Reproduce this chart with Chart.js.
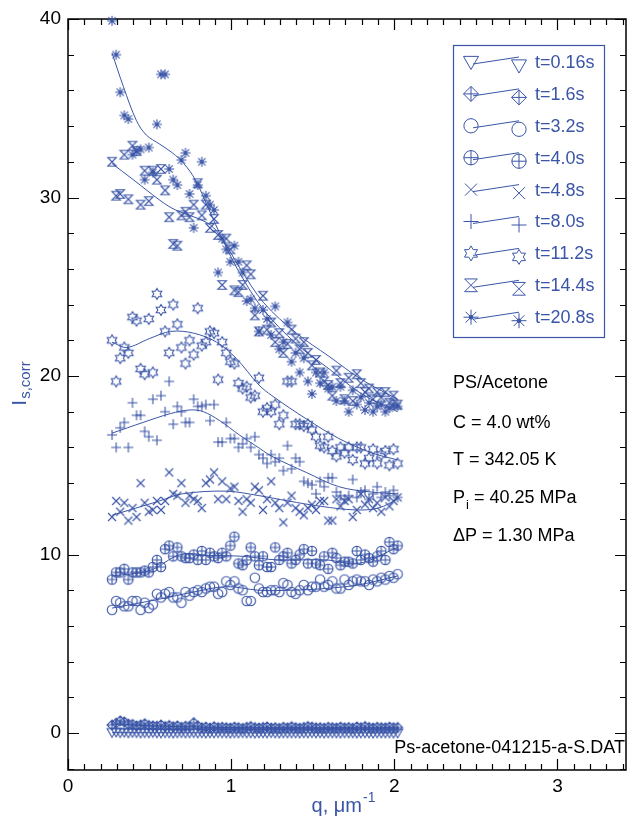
<!DOCTYPE html>
<html>
<head>
<meta charset="utf-8">
<script src="https://cdn.jsdelivr.net/npm/chart.js"></script>
<style>
  html, body { margin: 0; padding: 0; background: #fff; }
  #contenedor { width: 632px; height: 824px; position: relative; }
</style>
</head>
<body>
<div id="contenedor"><canvas id="dispersionChart"></canvas></div>
<script>
// Valores de q (um^-1), comunes a todas las series
const qValores = [
  0.270, 0.295, 0.320, 0.345, 0.370, 0.395, 0.420, 0.445, 0.470, 0.495,
  0.520, 0.545, 0.570, 0.595, 0.620, 0.645, 0.670, 0.695, 0.720, 0.745,
  0.770, 0.795, 0.820, 0.845, 0.870, 0.895, 0.920, 0.945, 0.970, 0.995,
  1.020, 1.045, 1.070, 1.095, 1.120, 1.145, 1.170, 1.195, 1.220, 1.245,
  1.270, 1.295, 1.320, 1.345, 1.370, 1.395, 1.420, 1.445, 1.470, 1.495,
  1.520, 1.545, 1.570, 1.595, 1.620, 1.645, 1.670, 1.695, 1.720, 1.745,
  1.770, 1.795, 1.820, 1.845, 1.870, 1.895, 1.920, 1.945, 1.970, 1.995,
  2.020
];

// Intensidad corregida para cada tiempo
const serie016 = [
  0.04, 0.06, 0.03, 0.05, 0.02, 0.04, 0.03, 0.01, 0.03, 0.02,
  0.04, 0.02, 0.01, 0.03, 0.02, 0.00, 0.02, 0.03, 0.01, 0.02,
  0.03, 0.01, 0.02, 0.00, 0.02, 0.01, 0.03, 0.02, 0.01, 0.00,
  0.02, 0.01, 0.03, 0.01, 0.02, 0.00, 0.01, 0.02, 0.01, 0.03,
  0.01, 0.00, 0.02, 0.01, 0.02, 0.01, 0.00, 0.02, 0.01, 0.03,
  0.01, 0.02, 0.00, 0.01, 0.02, 0.01, 0.00, 0.02, 0.01, 0.02,
  0.00, 0.01, 0.02, 0.01, 0.00, 0.02, 0.01, 0.01, 0.02, 0.00,
  0.01
];
const serie16 = [
  0.45, 0.55, 0.68, 0.62, 0.50, 0.48, 0.40, 0.45, 0.52, 0.42,
  0.40, 0.38, 0.45, 0.36, 0.42, 0.35, 0.40, 0.32, 0.38, 0.36,
  0.58, 0.40, 0.30, 0.33, 0.28, 0.35, 0.30, 0.32, 0.30, 0.28,
  0.33, 0.30, 0.26, 0.32, 0.36, 0.30, 0.28, 0.31, 0.34, 0.28,
  0.30, 0.26, 0.32, 0.29, 0.35, 0.30, 0.27, 0.31, 0.36, 0.33,
  0.29, 0.30, 0.27, 0.32, 0.30, 0.28, 0.33, 0.29, 0.31, 0.27,
  0.34, 0.30, 0.36, 0.31, 0.28, 0.32, 0.30, 0.29, 0.33, 0.30,
  0.31
];
const serie32 = [
  6.9, 7.4, 7.3, 7.1, 7.1, 7.4, 7.4, 6.9, 7.3, 7.0,
  7.2, 7.8, 7.6, 7.8, 7.9, 7.6, 7.6, 7.3, 7.9, 7.7,
  7.9, 8.0, 7.9, 8.1, 8.2, 8.2, 7.8, 7.9, 8.5, 8.3,
  8.5, 8.1, 8.0, 7.4, 7.4, 8.7, 8.1, 7.9, 7.9, 8.0,
  8.0, 7.9, 8.4, 8.3, 7.9, 7.8, 8.0, 8.3, 8.0, 8.2,
  8.2, 8.6, 8.2, 8.3, 8.5, 8.1, 8.1, 8.6, 8.3, 8.5,
  8.6, 8.5, 8.5, 8.3, 8.6, 8.5, 8.7, 8.6, 8.8, 8.7,
  8.9
];
const serie40 = [
  8.6, 9.0, 9.0, 9.2, 8.6, 9.0, 9.0, 9.0, 9.1, 9.0,
  9.3, 9.7, 9.3, 10.3, 10.5, 9.9, 10.4, 9.9, 9.8, 9.8,
  10.0, 9.7, 10.2, 9.7, 10.1, 9.9, 9.8, 10.1, 9.9, 10.5,
  11.0, 9.5, 9.4, 9.7, 10.4, 9.9, 9.4, 9.9, 9.3, 9.3,
  10.4, 9.7, 9.9, 10.1, 9.5, 9.7, 10.0, 10.3, 9.5, 10.2,
  9.5, 9.4, 9.9, 9.2, 10.1, 9.8, 9.4, 9.6, 9.6, 9.5,
  10.2, 9.7, 10.0, 9.8, 9.6, 9.9, 10.2, 9.7, 10.7, 10.3,
  10.5
];
const serie48 = [
  12.1, 13.0, 12.4, 12.9, 11.9, 12.6, 12.1, 14.0, 12.9, 12.4,
  12.5, 13.0, 12.5, 13.0, 14.6, 13.4, 13.3, 14.0, 12.9, 13.3,
  13.1, 13.0, 12.6, 14.0, 14.2, 14.6, 13.1, 14.1, 13.1, 13.7,
  13.8, 13.0, 12.4, 13.1, 12.9, 13.8, 13.6, 12.5, 13.1, 14.1,
  12.9, 12.6, 11.8, 12.9, 13.3, 12.6, 12.4, 12.2, 12.6, 12.8,
  12.5, 13.0, 13.0, 11.9, 11.9, 13.1, 12.7, 13.0, 13.1, 12.1,
  12.5, 13.4, 12.8, 13.1, 12.6, 12.9, 12.4, 13.2, 12.7, 13.0,
  13.2
];
const serie80 = [
  16.7, 16.0, 17.1, 17.4, 16.0, 18.5, 17.8, 17.8, 16.9, 16.6,
  18.7, 16.4, 18.9, 18.0, 19.7, 17.3, 18.3, 18.0, 17.4, 17.4,
  18.7, 18.3, 18.3, 18.4, 17.5, 18.4, 16.3, 16.3, 17.4, 16.5,
  16.5, 16.0, 16.2, 16.5, 16.0, 16.6, 15.6, 15.4, 15.1, 15.6,
  15.2, 15.4, 14.7, 16.1, 14.8, 15.4, 15.2, 14.1, 14.0, 13.9,
  13.4, 14.1, 13.8, 14.3, 14.3, 13.5, 13.3, 13.1, 13.3, 14.2,
  13.2, 13.5, 13.6, 13.1, 13.4, 13.8, 13.2, 13.5, 13.3, 13.6,
  13.2
];
const serie112 = [
  22.0, 19.7, 21.0, 21.6, 21.3, 23.3, 23.1, 20.4, 20.1, 23.2,
  20.2, 24.6, 23.7, 22.5, 21.3, 24.0, 22.9, 21.6, 20.7, 22.0,
  21.2, 23.8, 21.7, 21.9, 22.5, 22.4, 19.8, 21.9, 21.3, 20.8,
  20.7, 19.6, 19.3, 19.4, 18.8, 18.9, 19.9, 18.0, 18.2, 18.0,
  18.4, 17.3, 17.8, 19.7, 19.7, 17.3, 17.3, 17.2, 17.3, 17.0,
  16.6, 16.1, 16.0, 16.6, 15.8, 15.5, 16.0, 15.7, 16.0, 15.3,
  16.0, 16.0, 15.1, 15.4, 15.9, 15.1, 15.6, 15.8, 15.0, 15.9,
  15.1
];
const serie144 = [
  32.0, 30.1, 30.2, 32.4, 29.9, 32.9, 32.6, 29.6, 31.5, 29.8,
  31.5, 31.0, 31.6, 30.4, 28.9, 27.4, 27.3, 29.0, 29.2, 28.9,
  29.6, 30.8, 29.0, 29.6, 28.3, 28.8, 27.9, 25.1, 27.7, 27.1,
  24.8, 24.7, 25.1, 26.2, 25.7, 23.4, 22.5, 24.5, 22.6, 23.0,
  21.9, 22.4, 21.3, 21.8, 22.6, 22.1, 21.5, 21.9, 21.3, 20.6,
  20.9, 20.2, 19.7, 19.5, 18.9, 20.3, 19.6, 18.7, 19.9, 18.6,
  20.1, 19.6, 19.1, 19.3, 18.7, 19.1, 18.8, 19.1, 18.5, 18.9,
  18.4
];
const serie208 = [
  39.9, 38.0, 35.9, 34.6, 34.4, 32.4, 32.6, 32.7, 31.0, 32.8,
  31.4, 34.1, 36.9, 36.9, 31.6, 31.0, 30.7, 32.1, 32.5, 30.2,
  28.3, 30.7, 32.0, 30.1, 29.6, 29.3, 25.8, 27.7, 27.1, 26.4,
  27.3, 26.4, 25.8, 24.2, 24.3, 23.8, 22.5, 23.7, 23.2, 22.3,
  23.9, 21.5, 21.9, 23.0, 20.8, 21.3, 20.2, 21.0, 19.7, 19.0,
  20.2, 19.6, 20.2, 19.3, 19.4, 18.6, 19.4, 18.6, 18.0, 19.2,
  18.4, 18.8, 18.1, 18.5, 18.0, 18.3, 18.4, 18.0, 18.2, 18.4,
  18.3
];

// Curvas de ajuste, pares [q, I]
const ajuste016 = [[0.27, 0.02], [1.0, 0.01], [2.02, 0.01]];
const ajuste16 = [[0.27, 0.50], [0.6, 0.38], [1.0, 0.31], [1.5, 0.29], [2.02, 0.29]];
const ajuste32 = [[0.27, 7.0], [0.56, 7.5], [0.77, 7.9], [0.97, 8.2], [1.17, 8.0], [1.37, 8.0], [1.58, 8.1], [1.78, 8.3], [2.02, 8.8]];
const ajuste40 = [[0.27, 8.8], [0.5, 9.1], [0.69, 10.0], [0.87, 9.95], [1.07, 9.9], [1.28, 9.7], [1.58, 9.7], [1.78, 9.5], [2.02, 10.4]];
const ajuste48 = [[0.27, 12.2], [0.56, 13.0], [0.70, 13.4], [0.97, 13.55], [1.17, 13.3], [1.35, 13.0], [1.55, 12.7], [1.76, 12.5], [1.9, 12.6], [2.02, 13.1]];
const ajuste80 = [[0.27, 16.8], [0.46, 17.4], [0.63, 17.9], [0.75, 18.1], [0.83, 18.0], [0.93, 17.5], [1.05, 16.7], [1.15, 16.1], [1.25, 15.5], [1.46, 14.6], [1.66, 13.8], [1.86, 13.5], [2.02, 13.4]];
const ajuste112 = [[0.27, 21.9], [0.36, 21.6], [0.5, 22.1], [0.63, 22.5], [0.77, 22.4], [0.91, 21.9], [1.03, 21.0], [1.17, 19.5], [1.25, 18.9], [1.46, 17.6], [1.66, 16.5], [1.86, 15.7], [2.02, 15.3]];
const ajuste144 = [[0.27, 31.9], [0.4, 31.0], [0.57, 29.8], [0.66, 29.3], [0.85, 28.6], [0.93, 27.9], [1.05, 26.1], [1.2, 24.1], [1.4, 22.4], [1.6, 21.1], [1.8, 19.8], [2.02, 18.7]];
const ajuste208 = [[0.27, 38.1], [0.34, 36.2], [0.42, 34.3], [0.48, 33.5], [0.56, 33.0], [0.64, 32.5], [0.71, 31.9], [0.78, 31.0], [0.86, 29.4], [0.95, 27.6], [1.05, 25.8], [1.2, 23.7], [1.4, 21.8], [1.6, 20.4], [1.8, 19.0], [2.02, 18.0]];

const etiquetas = ['t=0.16s', 't=1.6s', 't=3.2s', 't=4.0s', 't=4.8s', 't=8.0s', 't=11.2s', 't=14.4s', 't=20.8s'];
const simbolos = ['trianguloAbajo', 'romboCruz', 'circulo', 'circuloCruz', 'equis', 'cruz', 'estrella6', 'reloj', 'asterisco'];
const xTicks = [0, 1, 2, 3];
const yTicks = [0, 10, 20, 30, 40];

const series = [serie016, serie16, serie32, serie40, serie48, serie80, serie112, serie144, serie208];
const ajustes = [ajuste016, ajuste16, ajuste32, ajuste40, ajuste48, ajuste80, ajuste112, ajuste144, ajuste208];

const azul = '#3a55a7';
const fuente = '"Liberation Sans", Arial, sans-serif';

// Dibuja un símbolo en (cx, cy) con radio r
function dibujarSimbolo(ctx, tipo, cx, cy, r) {
    ctx.beginPath();
    switch (tipo) {
        case 'trianguloAbajo':
            ctx.moveTo(cx - r, cy - r * 0.75);
            ctx.lineTo(cx + r, cy - r * 0.75);
            ctx.lineTo(cx, cy + r);
            ctx.closePath();
            break;
        case 'romboCruz':
            ctx.moveTo(cx, cy - r);
            ctx.lineTo(cx + r, cy);
            ctx.lineTo(cx, cy + r);
            ctx.lineTo(cx - r, cy);
            ctx.closePath();
            ctx.moveTo(cx - r, cy); ctx.lineTo(cx + r, cy);
            ctx.moveTo(cx, cy - r); ctx.lineTo(cx, cy + r);
            break;
        case 'circulo':
            ctx.arc(cx, cy, r * 0.95, 0, Math.PI * 2);
            break;
        case 'circuloCruz':
            ctx.arc(cx, cy, r * 0.95, 0, Math.PI * 2);
            ctx.moveTo(cx - r, cy); ctx.lineTo(cx + r, cy);
            ctx.moveTo(cx, cy - r); ctx.lineTo(cx, cy + r);
            break;
        case 'equis': {
            const d = r * 0.8;
            ctx.moveTo(cx - d, cy - d); ctx.lineTo(cx + d, cy + d);
            ctx.moveTo(cx + d, cy - d); ctx.lineTo(cx - d, cy + d);
            break;
        }
        case 'cruz':
            ctx.moveTo(cx - r, cy); ctx.lineTo(cx + r, cy);
            ctx.moveTo(cx, cy - r); ctx.lineTo(cx, cy + r);
            break;
        case 'estrella6':
            for (let k = 0; k < 12; k++) {
                const ang = -Math.PI / 2 + k * Math.PI / 6;
                const rr = k % 2 === 0 ? r : r * 0.58;
                const px = cx + rr * Math.cos(ang), py = cy + rr * Math.sin(ang);
                if (k === 0) ctx.moveTo(px, py); else ctx.lineTo(px, py);
            }
            ctx.closePath();
            break;
        case 'reloj': {
            const d = r * 0.85;
            ctx.moveTo(cx - d, cy - d);
            ctx.lineTo(cx + d, cy - d);
            ctx.lineTo(cx - d, cy + d);
            ctx.lineTo(cx + d, cy + d);
            ctx.closePath();
            break;
        }
        case 'asterisco': {
            const d = r * 0.72;
            ctx.moveTo(cx - r, cy); ctx.lineTo(cx + r, cy);
            ctx.moveTo(cx, cy - r); ctx.lineTo(cx, cy + r);
            ctx.moveTo(cx - d, cy - d); ctx.lineTo(cx + d, cy + d);
            ctx.moveTo(cx + d, cy - d); ctx.lineTo(cx - d, cy + d);
            break;
        }
    }
    ctx.stroke();
    if (tipo === 'asterisco') {
        ctx.beginPath();
        ctx.arc(cx, cy, r * 0.3, 0, Math.PI * 2);
        ctx.fill();
    }
}

// Imagen del símbolo para usarla como pointStyle
function crearSimbolo(tipo, r) {
    const lado = Math.ceil(r) * 2 + 4;
    const c = document.createElement('canvas');
    c.width = lado;
    c.height = lado;
    const g = c.getContext('2d');
    g.strokeStyle = azul;
    g.fillStyle = azul;
    g.lineWidth = 1.1;
    dibujarSimbolo(g, tipo, lado / 2, lado / 2, r);
    return c;
}

// Marco y marcas hacia dentro en los cuatro lados
const marcoPlugin = {
    id: 'marco',
    beforeDatasetsDraw(chart) {
        const { ctx, chartArea: a, scales: { x, y } } = chart;
        ctx.save();
        ctx.strokeStyle = '#000';
        ctx.lineWidth = 1.5;
        ctx.strokeRect(a.left, a.top, a.right - a.left, a.bottom - a.top);
        ctx.lineWidth = 1.2;
        ctx.beginPath();
        for (let i = 0; i <= 34; i++) {
            const v = i / 10;
            const px = Math.round(x.getPixelForValue(v)) + 0.5;
            const largo = i % 10 === 0 ? 11 : 6;
            ctx.moveTo(px, a.bottom); ctx.lineTo(px, a.bottom - largo);
            ctx.moveTo(px, a.top); ctx.lineTo(px, a.top + largo);
        }
        for (let v = -2; v <= 40; v += 2) {
            const py = Math.round(y.getPixelForValue(v)) + 0.5;
            const largo = v % 10 === 0 ? 11 : 6;
            ctx.moveTo(a.left, py); ctx.lineTo(a.left + largo, py);
            ctx.moveTo(a.right, py); ctx.lineTo(a.right - largo, py);
        }
        ctx.stroke();
        ctx.restore();
    }
};

// Leyenda, textos del experimento y títulos de los ejes
const textosPlugin = {
    id: 'textos',
    afterDraw(chart) {
        const ctx = chart.ctx;
        ctx.save();

        // leyenda
        ctx.strokeStyle = azul;
        ctx.fillStyle = azul;
        ctx.lineWidth = 1.2;
        ctx.strokeRect(453.5, 45.5, 151, 292);
        ctx.lineWidth = 1;
        ctx.font = '18px ' + fuente;
        ctx.textBaseline = 'middle';
        ctx.textAlign = 'left';
        etiquetas.forEach((txt, i) => {
            const yy = 62 + i * 31.9;
            dibujarSimbolo(ctx, simbolos[i], 471, yy, 7.5);
            dibujarSimbolo(ctx, simbolos[i], 519, yy + 3.5, 7.5);
            ctx.beginPath();
            ctx.moveTo(473, yy + 2);
            ctx.lineTo(519, yy - 5);
            ctx.stroke();
            ctx.fillText(txt, 535, yy + 1);
        });

        // condiciones del experimento
        ctx.fillStyle = '#000';
        ctx.font = '18px ' + fuente;
        ctx.fillText('PS/Acetone', 453, 383);
        ctx.fillText('C = 4.0 wt%', 453, 423);
        ctx.fillText('T = 342.05 K', 453, 460);
        ctx.fillText('P', 453, 498);
        let w = ctx.measureText('P').width;
        ctx.font = '13px ' + fuente;
        ctx.fillText('i', 453 + w + 1, 505);
        const wi = ctx.measureText('i').width;
        ctx.font = '18px ' + fuente;
        ctx.fillText(' = 40.25 MPa', 453 + w + wi + 1, 498);
        ctx.fillText('\u0394P = 1.30 MPa', 453, 536);

        ctx.textAlign = 'right';
        ctx.fillText('Ps-acetone-041215-a-S.DAT', 625, 748);

        // título eje x: q, um^-1
        ctx.fillStyle = azul;
        ctx.textAlign = 'left';
        ctx.font = '20px ' + fuente;
        const base = 'q, \u03bcm';
        const wb = ctx.measureText(base).width;
        ctx.font = '14px ' + fuente;
        const ws = ctx.measureText('-1').width;
        let x0 = 343 - (wb + ws) / 2;
        ctx.font = '20px ' + fuente;
        ctx.fillText(base, x0, 806);
        ctx.font = '14px ' + fuente;
        ctx.fillText('-1', x0 + wb + 1, 798);

        // título eje y: I s,corr (girado)
        ctx.translate(20, 384);
        ctx.rotate(-Math.PI / 2);
        ctx.font = '21px ' + fuente;
        const wI = ctx.measureText('I').width;
        ctx.font = '15px ' + fuente;
        const wSub = ctx.measureText('s,corr').width;
        x0 = -(wI + wSub) / 2;
        ctx.font = '21px ' + fuente;
        ctx.fillText('I', x0, 0);
        ctx.font = '15px ' + fuente;
        ctx.fillText('s,corr', x0 + wI + 1, 6);

        ctx.restore();
    }
};

// Datasets: puntos medidos y curva de ajuste de cada tiempo
const datasets = [];
series.forEach((valores, i) => {
    datasets.push({
        label: etiquetas[i],
        data: valores.map((v, k) => ({ x: qValores[k], y: v })),
        pointStyle: crearSimbolo(simbolos[i], simbolos[i] === 'estrella6' ? 5.5 : 5),
        pointRadius: 5,
        showLine: false,
        clip: false
    });
    datasets.push({
        label: '',
        data: ajustes[i].map(p => ({ x: p[0], y: p[1] })),
        showLine: true,
        pointRadius: 0,
        borderColor: azul,
        borderWidth: 1,
        tension: 0.35,
        fill: false
    });
});

const ctx = document.getElementById('dispersionChart').getContext('2d');
new Chart(ctx, {
    type: 'scatter',
    data: { datasets: datasets },
    options: {
        responsive: true,
        maintainAspectRatio: false,
        animation: false,
        layout: { padding: { top: 19, right: 1, left: 0, bottom: 0 } },
        plugins: {
            legend: { display: false },
            tooltip: { enabled: false }
        },
        scales: {
            x: {
                type: 'linear',
                min: 0,
                max: 3.42,
                grid: { display: false, drawTicks: false },
                border: { display: false },
                ticks: {
                    color: '#000',
                    font: { family: fuente, size: 19 },
                    padding: 5,
                    maxRotation: 0
                },
                afterBuildTicks: (s) => { s.ticks = xTicks.map(v => ({ value: v })); },
                afterFit: (s) => { s.height = 54; }
            },
            y: {
                type: 'linear',
                min: -2.07,
                max: 40,
                grid: { display: false, drawTicks: false },
                border: { display: false },
                ticks: {
                    color: '#000',
                    font: { family: fuente, size: 19 },
                    padding: 7
                },
                afterBuildTicks: (s) => { s.ticks = yTicks.map(v => ({ value: v })); },
                afterFit: (s) => { s.width = 68; }
            }
        }
    },
    plugins: [marcoPlugin, textosPlugin]
});
</script>
</body>
</html>
